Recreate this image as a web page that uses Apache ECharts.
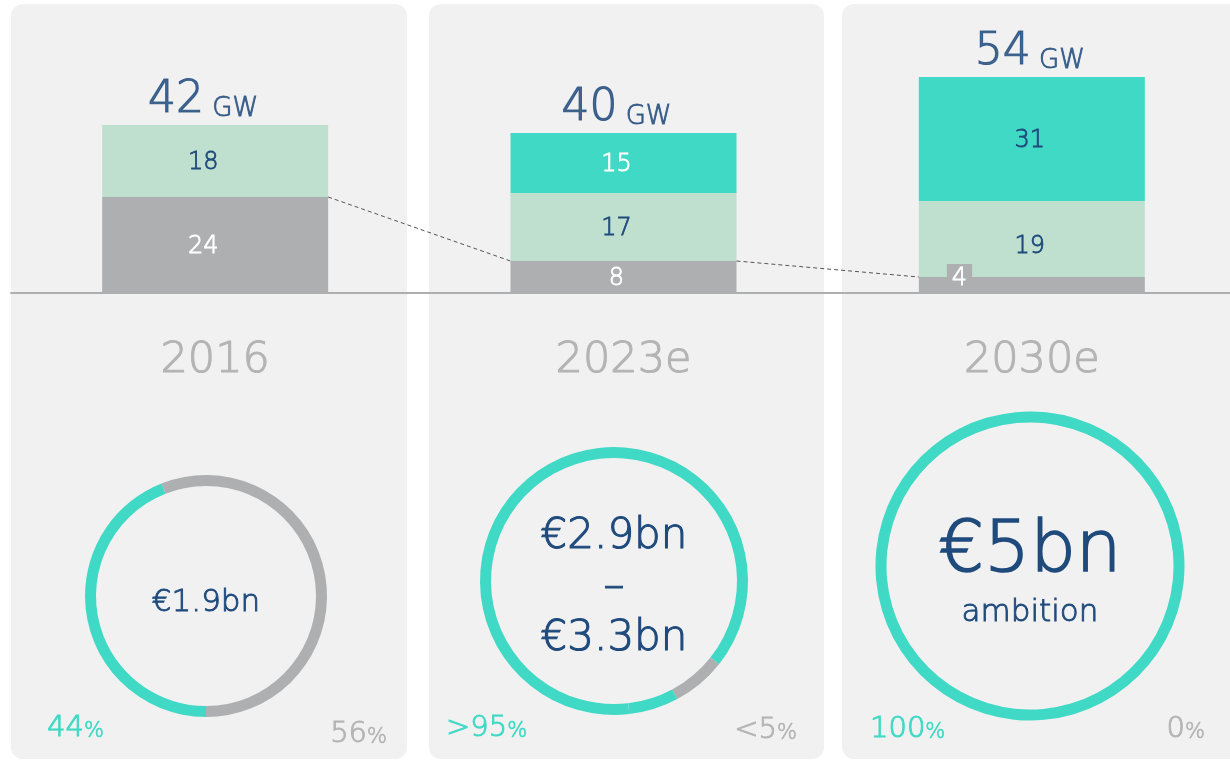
<!DOCTYPE html>
<html><head><meta charset="utf-8">
<script src="https://cdn.jsdelivr.net/npm/echarts@6/dist/echarts.min.js"></script>
<style>html,body{margin:0;padding:0;background:#fff}#c{width:1230px;height:763px}</style>
</head><body><div id="c"></div>
<script>
// ---- data ----
const years = ['2016', '2023e', '2030e'];
const grayGW = [24, 8, 4];
const lightGW = [18, 17, 19];
const tealGW = [null, 15, 31];
const totalGW = [42, 40, 54];
const donut2016 = [44, 56];          // teal, gray
const donut2023 = [87.5, 6.5, 6];    // teal, gray, teal
const donut2030 = [100, 0];          // teal, gray
const centerMain = ['€1.9bn', '€2.9bn\n–\n€3.3bn', '€5bn'];
const centerSub = ['', '', 'ambition'];
const shareTeal = ['44', '>95', '100'];
const shareGray = ['56', '<5', '0'];

// ---- style ----
const FONT = '"DejaVu Sans", sans-serif';
const FW = 200;
const C_GRAY = '#adafb0', C_LIGHT = '#bfe0cf', C_TEAL = '#40d9c5', C_NAVY = '#1f4a7c', C_YEAR = '#b4b4b4', C_PANEL = '#f1f1f1';
const GRID_LEFT = 11, GRID_W = 1225, BAR_W = 226;
const band = GRID_W / years.length;
const half = (BAR_W / 2) / band;
const shift = [-12, -7, -2];

const chart = echarts.init(document.getElementById('c'));

function seg(vals, labelColors, extra) {
  return vals.map((v, i) => {
    const d = { value: v, label: { offset: [shift[i], 2], color: labelColors[i], textBorderColor: labelColors[i] } };
    if (extra && extra[i]) Object.assign(d.label, extra[i]);
    return d;
  });
}

const connectors = [];
for (let i = 0; i < grayGW.length - 1; i++) {
  connectors.push({
    type: 'line', xAxisIndex: 1, yAxisIndex: 0, silent: true, symbol: 'none', z: 5,
    lineStyle: { color: '#555', width: 1, type: [4, 3] },
    data: [[i + half, grayGW[i]], [i + 1 - half, grayGW[i + 1]]]
  });
}

const pieBase = { type: 'pie', silent: true, label: { show: false }, labelLine: { show: false }, clockwise: true, itemStyle: { borderWidth: 0 } };
function pie(center, radius, start, vals, colors) {
  return Object.assign({}, pieBase, {
    center: center, radius: radius, startAngle: start,
    data: vals.map((v, i) => ({ value: v, itemStyle: { color: colors[i] } }))
  });
}

const panels = [[11, 396], [429, 395], [842, 400]].map(p => ({
  type: 'rect', z: -10, shape: { x: p[0], y: 4, width: p[1], height: 755, r: 12 }, style: { fill: C_PANEL }
}));

const centers = [[206, 603], [614, 588], [1030, 552]];
const mainSizes = [31, 42, 72];
const borderW = [0.9, 1.1, 1.6];
const texts = [];
centerMain.forEach((t, i) => {
  texts.push({ type: 'text', x: centers[i][0], y: centers[i][1], style: {
    text: t, fill: C_NAVY, stroke: C_NAVY, lineWidth: borderW[i], align: 'center', verticalAlign: 'middle',
    fontSize: mainSizes[i], fontFamily: FONT, fontWeight: FW, lineHeight: 51 } });
  if (centerSub[i]) texts.push({ type: 'text', x: centers[i][0], y: 613, style: {
    text: centerSub[i], fill: C_NAVY, stroke: C_NAVY, lineWidth: 0.9, align: 'center', verticalAlign: 'middle',
    fontSize: 31, fontFamily: FONT, fontWeight: FW } });
});
const tealPos = [[47, 728], [446, 728], [870, 729]];
const grayPos = [[387, 734], [797, 730], [1205, 729]];
function pct(txt, pos, color, align) {
  return { type: 'text', x: pos[0], y: pos[1], style: {
    text: '{a|' + txt + '}{b|%}', fill: color, align: align, verticalAlign: 'middle',
    rich: { a: { fontSize: 29, fontFamily: FONT, fontWeight: FW, fill: color, stroke: color, lineWidth: 0.9, verticalAlign: 'bottom' },
            b: { fontSize: 21, fontFamily: FONT, fontWeight: FW, fill: color, stroke: color, lineWidth: 0.7, verticalAlign: 'bottom' } } } };
}
shareTeal.forEach((t, i) => texts.push(pct(t, tealPos[i], C_TEAL, 'left')));
shareGray.forEach((t, i) => texts.push(pct(t, grayPos[i], C_YEAR, 'right')));

const segLabel = { show: true, position: 'inside', fontSize: 24, fontFamily: FONT, fontWeight: FW, textBorderWidth: 0.8 };

chart.setOption({
  backgroundColor: '#ffffff',
  animation: false,
  textStyle: { fontFamily: FONT },
  graphic: panels.concat(texts),
  grid: { left: GRID_LEFT, width: GRID_W, top: 5, height: 288, outerBoundsMode: 'none', containLabel: false },
  xAxis: [
    { type: 'category', data: years,
      axisLine: { show: true, lineStyle: { color: C_GRAY, width: 2 } },
      axisTick: { show: false },
      axisLabel: { margin: 46, fontSize: 43, color: C_YEAR, fontFamily: FONT, fontWeight: FW,
                   textBorderColor: C_YEAR, textBorderWidth: 1.1 } },
    { type: 'value', min: -0.5, max: 2.5, show: false }
  ],
  yAxis: { type: 'value', min: 0, max: 72, show: false },
  series: [
    { type: 'bar', stack: 'gw', barWidth: BAR_W, silent: true, itemStyle: { color: C_GRAY },
      label: segLabel,
      data: seg(grayGW, ['#fff', '#fff', '#fff'], [null, null,
        { position: [28, -13], offset: [0, 0], backgroundColor: C_GRAY, padding: [3, 5, 2, 5], lineHeight: 24 }]) },
    { type: 'bar', stack: 'gw', barWidth: BAR_W, silent: true, itemStyle: { color: C_LIGHT },
      label: segLabel,
      data: seg(lightGW, [C_NAVY, C_NAVY, C_NAVY], [null, null, { offset: [shift[2], 8] }]) },
    { type: 'bar', stack: 'gw', barWidth: BAR_W, silent: true, itemStyle: { color: C_TEAL },
      label: segLabel,
      data: seg(tealGW, ['#fff', '#fff', C_NAVY]) },
    { type: 'scatter', silent: true, symbolSize: 1, itemStyle: { color: 'rgba(0,0,0,0)' },
      label: { show: true, position: 'top', distance: 2,
        formatter: p => '{n|' + p.value + '}{u| GW}',
        rich: { n: { fontSize: 44, color: C_NAVY, fontFamily: FONT, fontWeight: FW, textBorderColor: C_NAVY, textBorderWidth: 1.2, verticalAlign: 'bottom' },
                u: { fontSize: 26, color: C_NAVY, fontFamily: FONT, fontWeight: FW, textBorderColor: C_NAVY, textBorderWidth: 0.9, verticalAlign: 'bottom' } } },
      data: totalGW.map((v, i) => ({ value: v, label: { offset: [shift[i], 0] } })) }
  ].concat(connectors).concat([
    pie([206, 596], [110, 121], 270, donut2016, [C_TEAL, C_GRAY]),
    pie([614, 581], [123, 134], 276.6, donut2023, [C_TEAL, C_GRAY, C_TEAL]),
    pie([1030, 566], [143.5, 154.5], 331.5, donut2030, [C_TEAL, C_GRAY])
  ])
});
</script></body></html>
